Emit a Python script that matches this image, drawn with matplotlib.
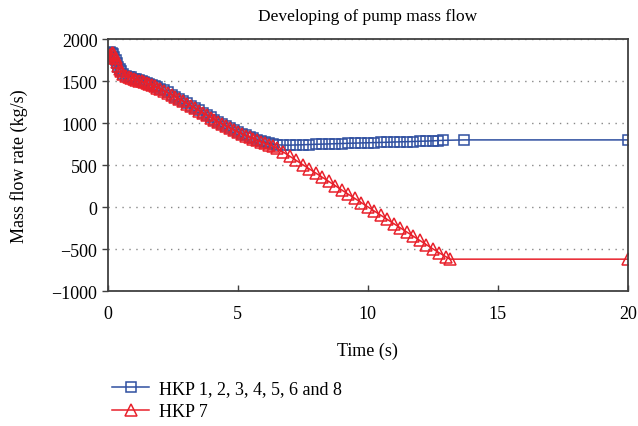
import matplotlib
matplotlib.use("Agg")
import matplotlib.pyplot as plt

plt.rcParams['font.family'] = ['Liberation Serif', 'DejaVu Serif']

# time (s) and mass flow (kg/s)
t_blue = [0.0, 0.05, 0.1, 0.15, 0.2, 0.25, 0.3, 0.35, 0.4, 0.45, 0.5, 0.6, 0.7, 0.8,
          0.9, 1.0, 1.1, 1.2, 1.3, 1.4, 1.5, 1.6, 1.7, 1.8, 1.9, 2.0, 2.15, 2.3, 2.45,
          2.6, 2.75, 2.9, 3.05, 3.2, 3.35, 3.5, 3.65, 3.8, 3.95, 4.1, 4.25, 4.4, 4.55,
          4.7, 4.85, 5.0, 5.15, 5.3, 5.45, 5.6, 5.75, 5.9, 6.05, 6.2, 6.35, 6.5, 6.75,
          7.0, 7.25, 7.5, 7.75, 8.0, 8.25, 8.5, 8.75, 9.0, 9.25, 9.5, 9.75, 10.0, 10.25,
          10.5, 10.75, 11.0, 11.25, 11.5, 11.75, 12.0, 12.25, 12.5, 12.7, 12.9, 13.7, 20.0]
m_blue = [1830, 1840, 1845, 1840, 1820, 1790, 1750, 1710, 1670, 1640, 1615, 1585, 1565, 1555,
          1545, 1530, 1520, 1510, 1500, 1490, 1478, 1466, 1455, 1442, 1428, 1412, 1390, 1365, 1340,
          1315, 1290, 1262, 1236, 1208, 1180, 1152, 1124, 1097, 1070, 1043, 1018, 993, 968,
          944, 921, 898, 876, 855, 836, 818, 801, 786, 772, 760, 750, 742, 738,
          738, 740, 742, 745, 748, 750, 752, 755, 757, 760, 762, 764, 766, 768,
          770, 772, 775, 777, 779, 781, 784, 786, 789, 792, 795, 800, 800]

t_red = [0.0, 0.05, 0.1, 0.15, 0.2, 0.25, 0.3, 0.35, 0.4, 0.45, 0.5, 0.6, 0.7, 0.8,
         0.9, 1.0, 1.1, 1.2, 1.3, 1.4, 1.5, 1.6, 1.7, 1.8, 1.9, 2.0, 2.15, 2.3, 2.45,
         2.6, 2.75, 2.9, 3.05, 3.2, 3.35, 3.5, 3.65, 3.8, 3.95, 4.1, 4.25, 4.4, 4.55,
         4.7, 4.85, 5.0, 5.15, 5.3, 5.45, 5.6, 5.75, 5.9, 6.05, 6.2, 6.35, 6.5, 6.75,
         7.0, 7.25, 7.5, 7.75, 8.0, 8.25, 8.5, 8.75, 9.0, 9.25, 9.5, 9.75, 10.0, 10.25,
         10.5, 10.75, 11.0, 11.25, 11.5, 11.75, 12.0, 12.25, 12.5, 12.75, 13.0, 13.15, 20.0]
m_red = [1770, 1790, 1815, 1830, 1830, 1810, 1770, 1725, 1680, 1645, 1615, 1582, 1562, 1550,
         1540, 1527, 1516, 1506, 1496, 1486, 1474, 1462, 1450, 1438, 1424, 1408, 1386, 1361, 1336,
         1311, 1286, 1258, 1232, 1204, 1176, 1148, 1120, 1093, 1066, 1039, 1014, 989, 964,
         940, 917, 894, 872, 851, 831, 812, 794, 777, 760, 744, 726, 700, 655,
         605, 555, 505, 455, 405, 355, 305, 255, 203, 153, 103, 53, 3, -47,
         -97, -147, -197, -247, -297, -347, -397, -447, -497, -545, -590, -620, -620]

blue = '#2f4fa0'
red = '#e8212b'
frame = '#404040'

fig = plt.figure(figsize=(6.38, 4.27), dpi=100)
ax = fig.add_axes([0.169, 0.316, 0.815, 0.590])

ax.plot(t_blue, m_blue, color=blue, lw=1.1, marker='s', ms=7.5, mfc='none', mew=1.1,
        label='HKP 1, 2, 3, 4, 5, 6 and 8')
ax.plot(t_red, m_red, color=red, lw=1.1, marker='^', ms=8.5, mfc='none', mew=1.1,
        label='HKP 7')

ax.set_xlim(0, 20)
ax.set_ylim(-1000, 2000)
ax.set_xticks([0, 5, 10, 15, 20])
ax.set_yticks(range(-1000, 2001, 500))
ax.set_yticklabels(['\u22121000', '\u2212500', '0', '500', '1000', '1500', '2000'])
ax.yaxis.grid(True, linestyle=(0, (1, 4)), color='#888888', lw=1)
for s in ax.spines.values():
    s.set_color(frame)
    s.set_linewidth(1.3)
ax.tick_params(labelsize=13, length=4, width=1, color=frame)
ax.tick_params(axis='x', direction='in', pad=10)
ax.tick_params(axis='y', direction='out')
ax.set_xlabel('Time (s)', fontsize=13, labelpad=14)
ax.set_ylabel('Mass flow rate (kg/s)', fontsize=13, labelpad=17)
ax.set_title('Developing of pump mass flow', fontsize=12.5, pad=14)

fig.legend(loc='upper left', bbox_to_anchor=(0.165, 0.125), frameon=False, fontsize=13,
           handlelength=2.0, labelspacing=0.35, borderaxespad=0, handletextpad=0.6)

fig.savefig('out.png', dpi=100)
